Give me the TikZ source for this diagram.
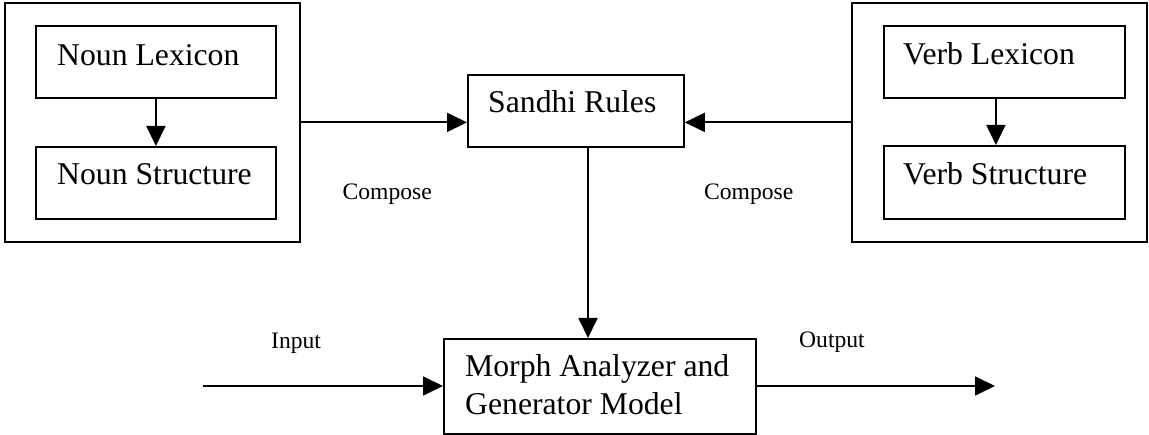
\documentclass[tikz,border=0pt]{standalone}
\usepackage{fontspec}
\setmainfont{Liberation Serif}
\usetikzlibrary{arrows.meta}
\begin{document}
\begin{tikzpicture}[x=1pt,y=-1pt,
  box/.style={draw, line width=1.8pt, rectangle, anchor=north west, inner sep=0pt},
  btxt/.style={font=\fontsize{31.7}{38}\selectfont, anchor=base west, inner sep=0pt},
  lbl/.style={font=\fontsize{23.6}{28}\selectfont, anchor=base west, inner sep=0pt},
  conn/.style={line width=1.8pt, -{Triangle[length=20pt,width=19pt]}},
]
\useasboundingbox (0,0) rectangle (1149,435);
% left group
\node[box, minimum width=295pt, minimum height=239pt] (nout) at (4,2) {};
\node[box, minimum width=240pt, minimum height=72pt] (nl) at (35,25) {};
\node[box, minimum width=240pt, minimum height=72pt] (ns) at (35,146) {};
\node[btxt] (nlt) at (57,66) {Noun Lexicon};
\node[btxt] (nst) at (57,185) {Noun Structure};
% right group
\node[box, minimum width=295pt, minimum height=239pt] (vout) at (851,2) {};
\node[box, minimum width=241pt, minimum height=72pt] (vl) at (883,25) {};
\node[box, minimum width=241pt, minimum height=73pt] (vs) at (883,145) {};
\node[btxt] (vlt) at (903,65) {Verb Lexicon};
\node[btxt] (vst) at (903,185) {Verb Structure};
% center
\node[box, minimum width=216pt, minimum height=72pt] (sr) at (467,74) {};
\node[btxt] (srt) at (488,113) {Sandhi Rules};
\node[box, minimum width=312pt, minimum height=95pt] (mg) at (443,338) {};
\node[btxt] (mgt1) at (465,377) {Morph Analyzer and};
\node[btxt] (mgt2) at (465,415) {Generator Model};
% labels
\node[lbl] (c1) at (342.5,200) {Compose};
\node[lbl] (c2) at (704,200) {Compose};
\node[lbl] (inl) at (271,349) {Input};
\node[lbl] (outl) at (799,348) {Output};
% connectors
\draw[conn] (nl.south) -- (ns.north);
\draw[conn] ([xshift=-8.5pt]vl.south) -- ([xshift=-8.5pt]vs.north);
\draw[conn] (nout.east) -- (nout.east -| sr.west);
\draw[conn] (vout.west) -- (vout.west -| sr.east);
\coordinate (vtop) at (588,148);
\draw[conn] (vtop) -- (vtop |- mg.north);
\coordinate (inp) at (203,386);
\draw[conn] (inp) -- (inp -| mg.west);
\coordinate (outp) at (995,386);
\draw[conn] (mg.east |- outp) -- (outp);
\end{tikzpicture}
\end{document}
